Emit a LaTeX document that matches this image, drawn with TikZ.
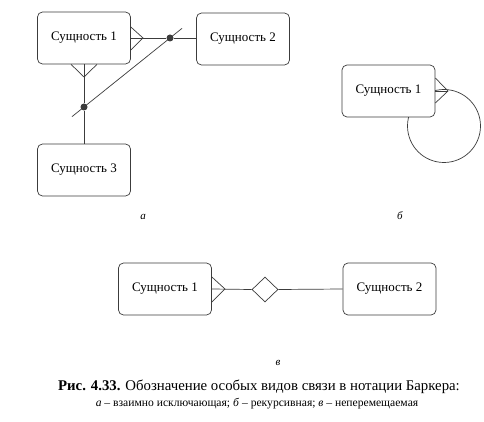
\documentclass[tikz,border=0pt]{standalone}
\usepackage{fontspec}
\setmainfont{Liberation Serif}
\usetikzlibrary{calc,shapes.geometric}
\definecolor{linec}{RGB}{60,60,60}
\begin{document}
\begin{tikzpicture}[x=1pt,y=-1pt,
  ent/.style={draw=linec, line width=0.7pt, rounded corners=5pt, minimum width=93pt, minimum height=52pt, inner sep=0pt, fill=white, font=\fontsize{13}{15}\selectfont},
  rel/.style={draw=linec, line width=0.7pt},
  dotn/.style={circle, fill=linec, minimum size=7pt, inner sep=0pt},
  dia/.style={diamond, draw=linec, line width=0.7pt, minimum width=26pt, minimum height=25pt, inner sep=0pt, fill=white},
  lab/.style={font=\itshape\fontsize{11}{13}\selectfont}]
\useasboundingbox (0,0) rectangle (484,422);
\fill[white] (0,0) rectangle (484,422);
% (a)
\node[ent] (a1) at (84,38) {Сущность 1};
\node[ent] (a2) at (243,39) {Сущность 2};
\node[ent] (a3) at (84,170) {Сущность 3};
\coordinate (ca) at (143,38);
\coordinate (cb) at (84,77);
\node[dotn] (d1) at (170,38) {};
\node[dotn] (d2) at (84,107) {};
\draw[rel] ([yshift=11pt]a1.east) -- (ca) -- ([yshift=-12pt]a1.east);
\draw[rel] (a1.east) -- (d1) -- (a1.east -| a2.west);
\draw[rel] ([xshift=-13pt]a1.south) -- (cb) -- ([xshift=13pt]a1.south);
\draw[rel] (a1.south) -- (d2) -- (a3.north);
\draw[rel] ($(d2)!-0.14!(d1)$) -- ($(d1)!-0.14!(d2)$);
\node[lab] (la) at (143,217) {а};
% (b)
\draw[rel] (444,126) circle (36.5pt);
\node[ent] (b1) at (388.5,91) {Сущность 1};
\coordinate (cc) at (448,91);
\draw[rel] ([yshift=13pt]b1.east) -- (cc) -- ([yshift=-12pt]b1.east);
\draw[rel] (b1.east) -- (cc);
\node[lab] (lb) at (400,216) {б};
% (c)
\node[ent] (c1) at (165,289) {Сущность 1};
\node[ent] (c2) at (389.5,289) {Сущность 2};
\node[dia] (dm) at (265,289.5) {};
\coordinate (cd) at (225,289);
\draw[rel] ([yshift=12pt]c1.east) -- (cd) -- ([yshift=-13pt]c1.east);
\draw[rel] (c1.east) -- (dm.west);
\draw[rel] (dm.east) -- (c2.west);
\node[lab] (lc) at (278,363) {в};
% caption
\node[font=\fontsize{14.8}{17}\selectfont] (cap1) at (259,387) {\textbf{Рис. 4.33.} Обозначение особых видов связи в нотации Баркера:};
\node[font=\fontsize{11.6}{14}\selectfont] (cap2) at (257,404) {\textit{а} – взаимно исключающая; \textit{б} – рекурсивная; \textit{в} – неперемещаемая};
\end{tikzpicture}
\end{document}
